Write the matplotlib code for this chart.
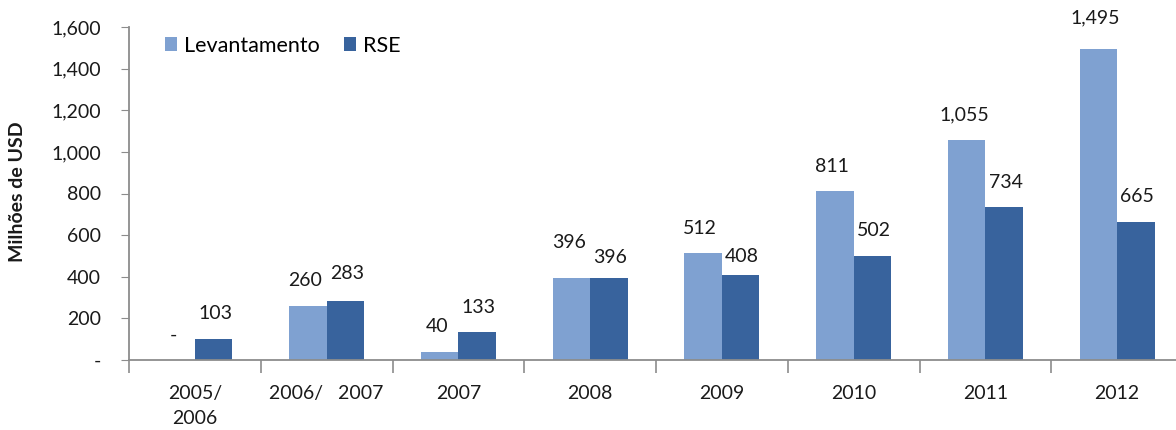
import matplotlib
matplotlib.use("Agg")
import matplotlib.pyplot as plt
import numpy as np
from matplotlib.ticker import FixedLocator, FuncFormatter

categories = ["2005/\n2006", "2006/   2007", "2007", "2008", "2009", "2010", "2011", "2012"]
levantamento = [0, 260, 40, 396, 512, 811, 1055, 1495]
rse = [103, 283, 133, 396, 408, 502, 734, 665]
series_names = ["Levantamento", "RSE"]
yticks = [0, 200, 400, 600, 800, 1000, 1200, 1400, 1600]

# style
c_lev = "#7FA1D1"
c_rse = "#38639D"
fontname = "Lato"
fs = 14
plt.rcParams["font.family"] = [fontname, "DejaVu Sans"]

fig = plt.figure(figsize=(11.76, 4.30), dpi=100)
ax = fig.add_axes([129 / 1176, 70 / 430, 1 - 129 / 1176 + 0.006, (360 - 27) / 430])

x = np.arange(len(categories))
w = 0.285
b1 = ax.bar(x - w / 2, levantamento, w, color=c_lev, label=series_names[0], zorder=2)
b2 = ax.bar(x + w / 2, rse, w, color=c_rse, label=series_names[1], zorder=2)

def fmt(v):
    return "-" if v == 0 else f"{v:,.0f}"

lev_dy = [0, 0, 0, 7, 0, 0, 0, 4]
rse_dy = [0, 2, 0, -4, -5, 0, 0, 0]
for i in range(len(categories)):
    ax.annotate(fmt(levantamento[i]), (x[i] - w / 2, levantamento[i]), xytext=(-2, 12 + lev_dy[i]),
                textcoords="offset points", ha="center", va="bottom", fontsize=fs, color="#1a1a1a")
    ax.annotate(fmt(rse[i]), (x[i] + w / 2, rse[i]), xytext=(1, 12 + rse_dy[i]),
                textcoords="offset points", ha="center", va="bottom", fontsize=fs, color="#1a1a1a")

ax.set_ylim(0, 1600)
ax.set_xlim(-0.5, len(categories) - 0.5)
ax.set_yticks(yticks)
ax.yaxis.set_major_formatter(FuncFormatter(lambda v, p: "-" if v == 0 else f"{v:,.0f}"))
ax.tick_params(axis="y", direction="out", length=6, color="#8c8c8c", labelsize=fs, pad=14, labelcolor="#1a1a1a")

ax.set_xticks(x)
ax.set_xticklabels(categories, fontsize=fs, linespacing=1.55, color="#1a1a1a")
ax.tick_params(axis="x", which="major", length=0, pad=18)
ax.xaxis.set_minor_locator(FixedLocator(np.arange(-0.5, len(categories), 1.0)))
ax.tick_params(axis="x", which="minor", direction="out", length=9, color="#8c8c8c", width=1.2)

for s in ["top", "right"]:
    ax.spines[s].set_visible(False)
for s in ["left", "bottom"]:
    ax.spines[s].set_color("#8c8c8c")
    ax.spines[s].set_linewidth(1.3)

fig.text(18 / 1176, 1 - 192 / 430, "Milhões de USD", rotation=90, ha="center", va="center",
         fontsize=fs, fontweight="bold", color="#1a1a1a")

ax.legend(loc="upper left", bbox_to_anchor=(0.026, 1.0), ncol=2, frameon=False, fontsize=15.5,
          handlelength=0.56, handleheight=0.56, handletextpad=0.3, columnspacing=1.15, borderaxespad=0.0)

fig.savefig("out.png", dpi=100)
